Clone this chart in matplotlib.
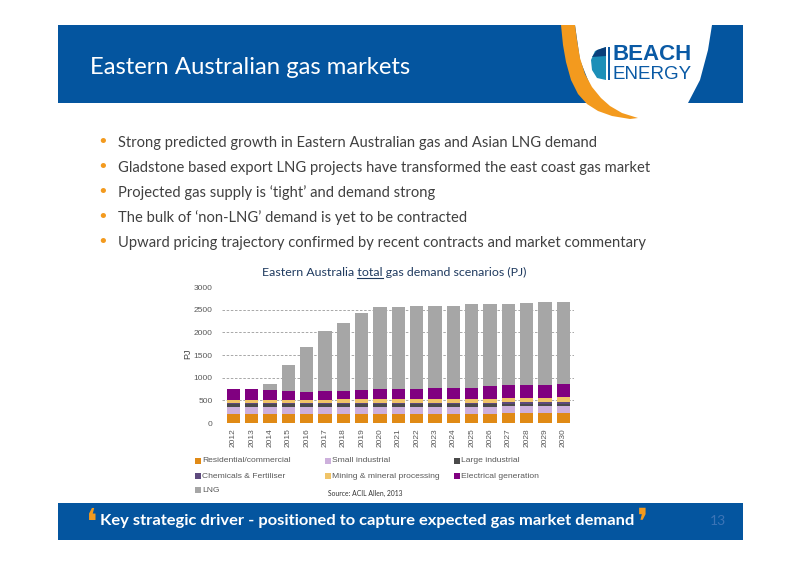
import matplotlib
matplotlib.use("Agg")
import matplotlib.pyplot as plt
from matplotlib.patches import Rectangle, Polygon
import numpy as np

# ---------------- data ----------------
years = ["2012", "2013", "2014", "2015", "2016", "2017", "2018", "2019", "2020", "2021",
         "2022", "2023", "2024", "2025", "2026", "2027", "2028", "2029", "2030"]
residential = [205, 205, 205, 205, 205, 205, 205, 205, 205, 205, 205, 205, 205, 205, 205, 215, 215, 215, 215]
small_industrial = [150, 150, 150, 150, 150, 150, 150, 150, 150, 150, 150, 150, 150, 150, 150, 150, 150, 150, 150]
large_industrial = [65, 65, 65, 65, 65, 65, 65, 65, 65, 65, 65, 65, 65, 65, 65, 65, 65, 65, 65]
chemicals = [30, 30, 30, 30, 30, 30, 30, 30, 30, 30, 30, 30, 30, 30, 30, 30, 30, 30, 30]
mining = [50, 50, 50, 55, 60, 65, 70, 80, 80, 80, 80, 80, 80, 80, 85, 95, 95, 95, 115]
electrical = [244, 244, 230, 202, 176, 192, 187, 207, 229, 221, 221, 250, 250, 250, 282, 284, 284, 284, 283]
lng = [0, 0, 130, 570, 984, 1313, 1503, 1685, 1800, 1802, 1840, 1810, 1810, 1840, 1803, 1796, 1811, 1821, 1817]

series_names = ["Residential/commercial", "Small industrial", "Large industrial",
                "Chemicals & Fertiliser", "Mining & mineral processing", "Electrical generation", "LNG"]
series_values = [residential, small_industrial, large_industrial, chemicals, mining, electrical, lng]
series_colors = ["#E08A16", "#CDB0DC", "#4A4A4A", "#5E4A7E", "#F0C468", "#800080", "#A6A6A6"]

y_ticks = [0, 500, 1000, 1500, 2000, 2500, 3000]

slide_title = "Eastern Australian gas markets"
bullets = [
    "Strong predicted growth in Eastern Australian gas and Asian LNG demand",
    "Gladstone based export LNG projects have transformed the east coast gas market",
    "Projected gas supply is \u2018tight\u2019 and demand strong",
    "The bulk of \u2018non-LNG\u2019 demand is yet to be contracted",
    "Upward pricing trajectory confirmed by recent contracts and market commentary",
]
footer = "Key strategic driver - positioned to capture expected gas market demand"

# ---------------- figure ----------------
W, H = 800, 566
fig = plt.figure(figsize=(8, 5.66), dpi=100)
fig.patch.set_facecolor("white")
R = fig.canvas.get_renderer()


def X(x):
    return x / W


def Y(y):
    return 1 - y / H


def add_rect(x0, y0, x1, y1, color, z=0):
    fig.add_artist(Rectangle((X(x0), Y(y1)), X(x1) - X(x0), Y(y0) - Y(y1),
                             transform=fig.transFigure, facecolor=color, edgecolor="none", zorder=z))


def add_poly(pts, color, z=1):
    fig.add_artist(Polygon([(X(a), Y(b)) for a, b in pts], closed=True,
                           transform=fig.transFigure, facecolor=color, edgecolor="none", zorder=z))


def fit_text(x0, x1, yc, s, size0=10, **kw):
    t = fig.text(X(x0), Y(yc), s, fontsize=size0, va="center", ha="left", **kw)
    w = t.get_window_extent(R).width
    t.set_fontsize(size0 * (x1 - x0) / w)
    return t


BLUE = "#04559F"
ORANGE = "#F39A1E"
LOGO_BLUE = "#0A5AA5"
BODY = "Lato"

# header band
add_rect(58, 25, 743, 103, BLUE, z=0)
# white shield + orange crescent (logo area)
shield = [(575, 25), (712, 25), (708, 50), (700, 80), (688, 103), (603, 103), (592, 90), (580, 60)]
add_poly(shield, "white", z=1)
outer = [(561, 25), (563, 45), (566, 62), (571, 80), (578, 94), (587, 104), (598, 111), (612, 116), (630, 119)]
inner = [(638, 118), (622, 113), (610, 106), (601, 98), (592, 87), (585, 74), (580, 58), (577, 40), (575, 25)]
add_poly(outer + inner, ORANGE, z=2)
# logo
fit_text(612, 691, 54.5, "BEACH", 14, fontweight="bold", color=LOGO_BLUE,
         family="Liberation Sans", zorder=3)
fit_text(612, 691, 74.5, "ENERGY", 12, color=LOGO_BLUE, family="Liberation Sans", zorder=3)
add_rect(608, 47, 610, 80, LOGO_BLUE, z=3)
add_poly([(606, 47), (606, 80), (597, 78), (592, 70), (591, 60), (595, 51)], "#1C8FB8", z=3)
add_poly([(606, 47), (606, 56), (592, 57), (597, 50)], "#0A3F7A", z=4)

fit_text(90, 413, 68, slide_title, 15, color="white", family=BODY)

# bullets
bt = None
for i, b in enumerate(bullets):
    yc = 143 + 25 * i
    fig.text(X(103), Y(yc - 1), "\u2022", fontsize=13, color=ORANGE, va="center", ha="center",
             family="DejaVu Sans")
    if i == 0:
        bt = fit_text(118, 597, yc, b, 11, color="#404040", family=BODY)
    else:
        fig.text(X(118), Y(yc), b, fontsize=bt.get_fontsize(), color="#404040", family=BODY,
                 va="center", ha="left")

# footer band
add_rect(58, 503, 743, 540, BLUE, z=0)
fit_text(100, 632, 521, footer, 11, color="white", family=BODY, fontweight="bold")
fig.text(X(92), Y(524), "\u275B", fontsize=26, color=ORANGE, family="DejaVu Sans",
         va="center", ha="center")
fig.text(X(643), Y(524), "\u275C", fontsize=26, color=ORANGE, family="DejaVu Sans",
         va="center", ha="center")
fig.text(X(718), Y(521), "13", fontsize=10, color="#3C74B6", family=BODY, va="center", ha="center")

# ---------------- chart ----------------
ax = fig.add_axes([X(222.3), Y(423), (574.3 - 222.3) / W, (423 - 287) / H])
x = np.arange(len(years))
bottom = np.zeros(len(years))
for name, vals, col in zip(series_names, series_values, series_colors):
    ax.bar(x, vals, 0.72, bottom=bottom, color=col, zorder=3, label=name, linewidth=0)
    bottom += np.array(vals)

for v in y_ticks[1:-1]:
    ax.axhline(v, color="#9A9A9A", lw=0.6, ls=(0, (3, 2)), zorder=1)
ax.set_xlim(-0.6, len(years) - 0.4)
ax.set_ylim(0, 3000)
ax.set_yticks(y_ticks)
ax.set_yticklabels([str(v) for v in y_ticks], fontsize=6, color="#595959", family="Liberation Sans")
ax.set_xticks(x)
ax.set_xticklabels(years, rotation=90, fontsize=6, color="#595959", family="Liberation Sans")
ax.tick_params(axis="both", length=0)
ax.tick_params(axis="y", pad=7)
ax.tick_params(axis="x", pad=4)
for s in ax.spines.values():
    s.set_visible(False)
ax.set_facecolor("none")

fig.text(X(188), Y(354), "PJ", fontsize=6.5, color="#404040", rotation=90, va="center", ha="center",
         family="Liberation Sans")

# chart title with underlined "total"
ct_text = "Eastern Australia total gas demand scenarios (PJ)"
ct = fit_text(262, 528, 272, ct_text, 8, color="#1F3A5F", family=BODY)
fs = ct.get_fontsize()


def tw(s):
    t = fig.text(0, 0, s, fontsize=fs, family=BODY)
    w = t.get_window_extent(R).width
    t.remove()
    return w


space = tw("a a") - tw("aa")
u0 = 262 + tw("Eastern Australia") + space
u1 = u0 + tw("total")
fig.add_artist(plt.Line2D([X(u0), X(u1)], [Y(278), Y(278)], transform=fig.transFigure,
                          color="#1F3A5F", lw=0.8))

# legend (manual grid, row-major like the original)
col_x = [195, 325, 454]
row_y = [461, 476, 490]
leg_fs = None
for k, (name, col) in enumerate(zip(series_names, series_colors)):
    r, c = divmod(k, 3)
    x0, yc = col_x[c], row_y[r]
    add_rect(x0, yc - 3, x0 + 6, yc + 3, col, z=2)
    if leg_fs is None:
        t = fit_text(x0 + 7, x0 + 7 + 89, yc, name, 6, color="#595959", family="Liberation Sans")
        leg_fs = t.get_fontsize()
    else:
        fig.text(X(x0 + 7), Y(yc), name, fontsize=leg_fs, color="#595959", family="Liberation Sans",
                 va="center", ha="left")

fit_text(328, 403, 493, "Source: ACIL Allen, 2013", 5, color="#333333", family=BODY)

fig.savefig("out.png", dpi=100)
